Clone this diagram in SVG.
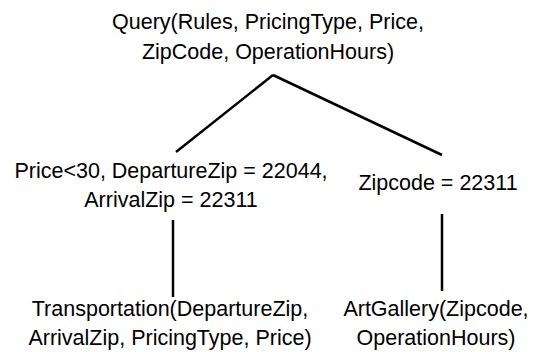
<svg xmlns="http://www.w3.org/2000/svg" width="537" height="352" viewBox="0 0 537 352">
<style>
text{font-family:"Liberation Sans",Arial,sans-serif;font-size:21.5px;fill:#000;text-anchor:middle}
.c line{stroke:#000;stroke-width:2.5;stroke-linecap:butt}
</style>
<rect width="537" height="352" fill="#fff"/>
<g class="c" id="connectors">
<line x1="273" y1="75" x2="176" y2="152"/>
<line x1="273" y1="75" x2="442" y2="155"/>
<line x1="173" y1="220" x2="173" y2="297"/>
<line x1="442" y1="214" x2="442" y2="291"/>
</g>
<g id="root"><text x="268" y="29">Query(Rules, PricingType, Price,</text><text x="268" y="59">ZipCode, OperationHours)</text></g>
<g id="sel1"><text x="171" y="178">Price&lt;30, DepartureZip = 22044,</text><text x="171" y="207">ArrivalZip = 22311</text></g>
<g id="sel2"><text x="438" y="190">Zipcode = 22311</text></g>
<g id="trans"><text x="170" y="316">Transportation(DepartureZip,</text><text x="170" y="345">ArrivalZip, PricingType, Price)</text></g>
<g id="art"><text x="436" y="316">ArtGallery(Zipcode,</text><text x="436" y="345">OperationHours)</text></g>
</svg>
